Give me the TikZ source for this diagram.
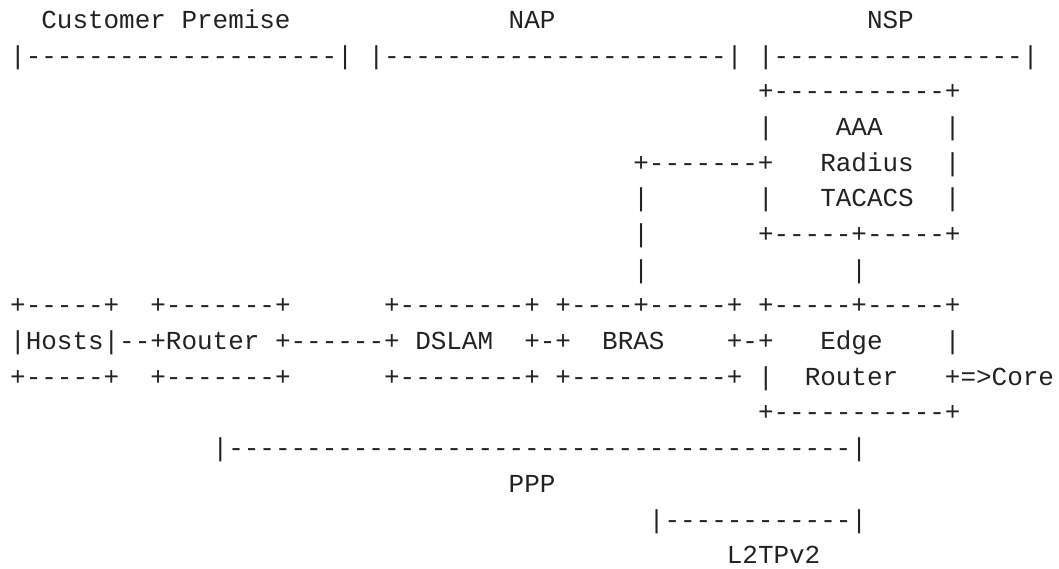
\documentclass[tikz,border=0pt]{standalone}
\usepackage{fontspec}
\setmonofont{Liberation Mono}
\definecolor{asciigray}{HTML}{222222}
\begin{document}
\begin{tikzpicture}[x=11.685pt, y=-26.775pt,
  ascii/.style={font=\ttfamily\fontsize{19.47}{20}\selectfont,
    text=asciigray, anchor=base west, inner sep=0pt, outer sep=0pt}]
  \useasboundingbox (-0.655,-0.793) rectangle (67.32,15.146);
  % domains
  \node[ascii] (custlabel) at (2,0) {Customer Premise};
  \node[ascii] (naplabel) at (32,0) {NAP};
  \node[ascii] (nsplabel) at (55,0) {NSP};
  \node[ascii] (custspan) at (0,1) {|--------------------|};
  \node[ascii] (napspan) at (23,1) {|----------------------|};
  \node[ascii] (nspspan) at (48,1) {|----------------|};
  % AAA server
  \node[ascii] (aaatop) at (48,2) {+-----------+};
  \node[ascii] (aaaleft3) at (48,3) {|};
  \node[ascii] (aaa) at (53,3) {AAA};
  \node[ascii] (aaaright3) at (60,3) {|};
  \node[ascii] (braslink) at (40,4) {+-------+};
  \node[ascii] (radius) at (52,4) {Radius};
  \node[ascii] (aaaright4) at (60,4) {|};
  \node[ascii] (brasup5) at (40,5) {|};
  \node[ascii] (aaaleft5) at (48,5) {|};
  \node[ascii] (tacacs) at (52,5) {TACACS};
  \node[ascii] (aaaright5) at (60,5) {|};
  \node[ascii] (brasup6) at (40,6) {|};
  \node[ascii] (aaabottom) at (48,6) {+-----+-----+};
  \node[ascii] (brasup7) at (40,7) {|};
  \node[ascii] (edgeup7) at (54,7) {|};
  % access chain
  \node[ascii] (hoststop) at (0,8) {+-----+};
  \node[ascii] (routertop) at (9,8) {+-------+};
  \node[ascii] (dslamtop) at (24,8) {+--------+};
  \node[ascii] (brastop) at (35,8) {+----+-----+};
  \node[ascii] (edgetop) at (48,8) {+-----+-----+};
  \node[ascii] (hosts) at (0,9) {|Hosts|--+Router};
  \node[ascii] (routerlink) at (17,9) {+------+};
  \node[ascii] (dslam) at (26,9) {DSLAM};
  \node[ascii] (dslamlink) at (33,9) {+-+};
  \node[ascii] (bras) at (38,9) {BRAS};
  \node[ascii] (edgelink) at (46,9) {+-+};
  \node[ascii] (edge) at (52,9) {Edge};
  \node[ascii] (edgeright9) at (60,9) {|};
  \node[ascii] (hostsbottom) at (0,10) {+-----+};
  \node[ascii] (routerbottom) at (9,10) {+-------+};
  \node[ascii] (dslambottom) at (24,10) {+--------+};
  \node[ascii] (brasbottom) at (35,10) {+----------+};
  \node[ascii] (edgeleft10) at (48,10) {|};
  \node[ascii] (edgerouter) at (51,10) {Router};
  \node[ascii] (core) at (60,10) {+=>Core};
  \node[ascii] (edgebottom) at (48,11) {+-----------+};
  % sessions
  \node[ascii] (pppspan) at (13,12) {|----------------------------------------|};
  \node[ascii] (ppp) at (32,13) {PPP};
  \node[ascii] (l2tpspan) at (41,14) {|------------|};
  \node[ascii] (l2tp) at (46,15) {L2TPv2};
\end{tikzpicture}
\end{document}
